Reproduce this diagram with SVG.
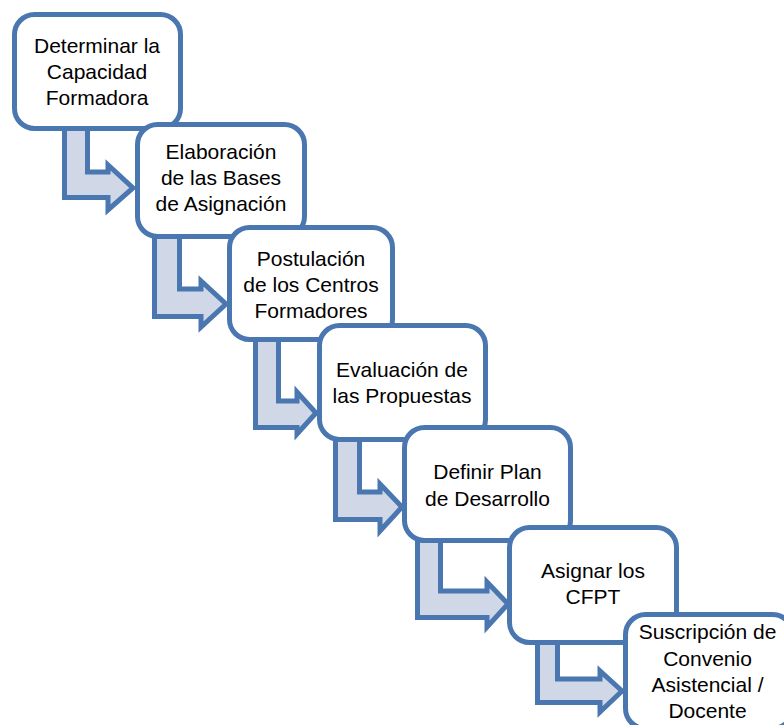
<svg xmlns="http://www.w3.org/2000/svg" width="784" height="725" viewBox="0 0 784 725">
<style>
.box{fill:#ffffff;stroke:#4a77b0;stroke-width:5}
.arr{fill:#d0d8e8;stroke:#4a77b0;stroke-width:5;stroke-linejoin:miter}
text{font-family:"Liberation Sans",Arial,sans-serif;font-size:21px;fill:#000;text-anchor:middle}
</style>
<rect width="784" height="725" fill="#ffffff"/>
<g id="connectors">
<polygon class="arr" points="64.5,125 87.5,125 87.5,172 108,172 108,165 133,188 108,210 108,197.5 64.5,197.5"/>
<polygon class="arr" points="154.5,235 179.5,235 179.5,289 201,289 201,281 226,304 201,327 201,316.5 154.5,316.5"/>
<polygon class="arr" points="255.5,338 278.5,338 278.5,401 297,401 297,392 316,413 297,434 297,427.5 255.5,427.5"/>
<polygon class="arr" points="335.5,438 359.5,438 359.5,492 380,492 380,484 402,507 380,531 380,519.5 335.5,519.5"/>
<polygon class="arr" points="417.5,540 440.5,540 440.5,591 487,591 487,582 508,604 487,627 487,617.5 417.5,617.5"/>
<polygon class="arr" points="537.5,640 557.5,640 557.5,679 600,679 600,671 622,691 600,712 600,702.5 537.5,702.5"/>
</g>
<g id="n1">
<rect class="box" x="14.5" y="14.5" width="166" height="114" rx="20"/>
<text x="97" y="53">Determinar la</text>
<text x="97" y="79">Capacidad</text>
<text x="97" y="105">Formadora</text>
</g>
<g id="n2">
<rect class="box" x="137.5" y="124.5" width="167" height="112" rx="20"/>
<text x="221" y="159">Elaboración</text>
<text x="221" y="185">de las Bases</text>
<text x="221" y="211">de Asignación</text>
</g>
<g id="n3">
<rect class="box" x="229.5" y="227.5" width="163" height="112" rx="20"/>
<text x="311" y="266">Postulación</text>
<text x="311" y="292">de los Centros</text>
<text x="311" y="318">Formadores</text>
</g>
<g id="n4">
<rect class="box" x="319.5" y="325.5" width="166" height="114" rx="20"/>
<text x="402" y="377">Evaluación de</text>
<text x="402" y="403">las Propuestas</text>
</g>
<g id="n5">
<rect class="box" x="404.5" y="427.5" width="166" height="113" rx="20"/>
<text x="487.5" y="479">Definir Plan</text>
<text x="487.5" y="506">de Desarrollo</text>
</g>
<g id="n6">
<rect class="box" x="509.5" y="527.5" width="167" height="115" rx="20"/>
<text x="593" y="578">Asignar los</text>
<text x="593" y="604">CFPT</text>
</g>
<g id="n7">
<rect class="box" x="625.5" y="614.5" width="167" height="114" rx="20"/>
<text x="707.5" y="639">Suscripción de</text>
<text x="707.5" y="666">Convenio</text>
<text x="707.5" y="692">Asistencial /</text>
<text x="707.5" y="718">Docente</text>
</g>
</svg>
